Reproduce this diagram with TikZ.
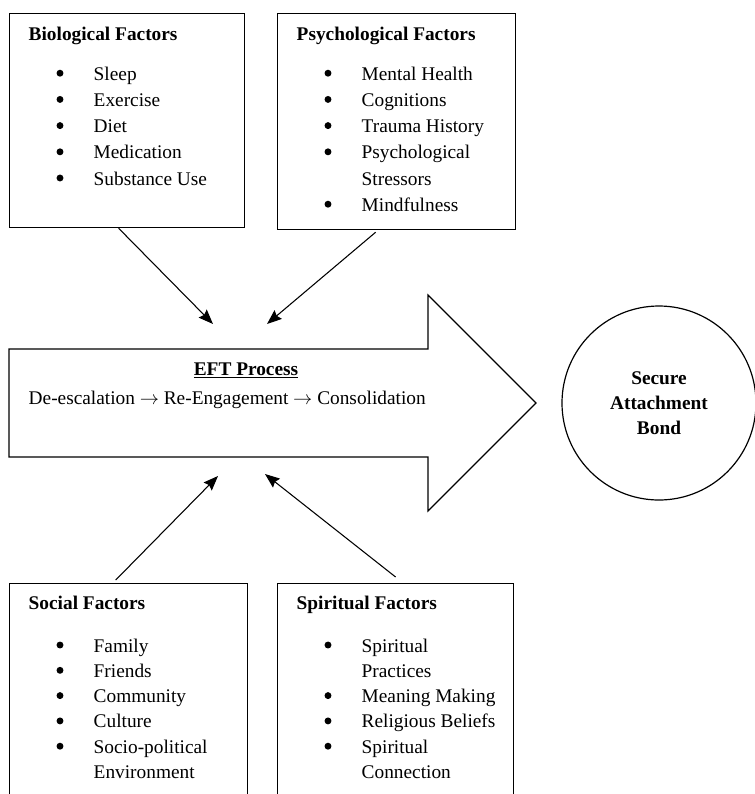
\documentclass[tikz,border=0pt]{standalone}
\usepackage{fontspec}
\setmainfont{Liberation Serif}
\usepackage{tikz}
\usetikzlibrary{arrows.meta}

\tikzset{
  factorbox/.style={draw,line width=0.9pt,anchor=north west,inner sep=0pt},
  headtext/.style={anchor=base west,font=\fontsize{14.5}{18}\selectfont\bfseries},
  itemtext/.style={anchor=base west},
  dot/.style={circle,fill,inner sep=0pt,minimum size=5.2pt},
  flow/.style={line width=0.8pt,-{Stealth[length=11pt,width=8.5pt,inset=1.5pt]}}
}

\begin{document}
\begin{tikzpicture}[x=0.75pt,y=-0.75pt,font=\fontsize{14.5}{18}\selectfont]
\useasboundingbox (0,0) rectangle (755,794);

% the four factor boxes
\node[factorbox,minimum width=176.25pt,minimum height=160.5pt] (bio) at (9,13) {};
\node[factorbox,minimum width=178.5pt,minimum height=162pt] (psy) at (277,13) {};
\node[factorbox,minimum width=178.5pt,minimum height=180pt] (soc) at (9,583) {};
\node[factorbox,minimum width=177pt,minimum height=180pt] (spi) at (277,583) {};

% biological
\node[headtext] (bio-h) at (24,40) {Biological Factors};
\foreach \t [count=\i] in {Sleep,Exercise,Diet,Medication,Substance Use} {
  \node[dot] (bio-d\i) at (60,{47+26.2*\i}) {};
  \node[itemtext] (bio-\i) at (89,{54+26.2*\i}) {\t};
}

% psychological
\node[headtext] (psy-h) at (292,40) {Psychological Factors};
\foreach \t [count=\i] in {Mental Health,Cognitions,Trauma History,Psychological,Stressors,Mindfulness}
  \node[itemtext] (psy-\i) at (357,{54+26.2*\i}) {\t};
\foreach \i in {1,2,3,4,6}
  \node[dot] (psy-d\i) at (328,{47+26.2*\i}) {};

% social
\node[headtext] (soc-h) at (24,609) {Social Factors};
\foreach \t [count=\i] in {Family,Friends,Community,Culture,Socio-political,Environment}
  \node[itemtext] (soc-\i) at (89,{626.7+25.3*\i}) {\t};
\foreach \i in {1,...,5}
  \node[dot] (soc-d\i) at (60,{619.7+25.3*\i}) {};

% spiritual
\node[headtext] (spi-h) at (292,609) {Spiritual Factors};
\foreach \t [count=\i] in {Spiritual,Practices,Meaning Making,Religious Beliefs,Spiritual,Connection}
  \node[itemtext] (spi-\i) at (357,{626.7+25.3*\i}) {\t};
\foreach \i in {1,3,4,5}
  \node[dot] (spi-d\i) at (328,{619.7+25.3*\i}) {};

% big process arrow
\draw[line width=0.9pt] (9,349) -- (428,349) -- (428,295) -- (536,403)
  -- (428,511) -- (428,457) -- (9,457) -- cycle;
\node[anchor=base] (eft) at (246,375) {\underline{\textbf{EFT Process}}};
\node[itemtext] (stages) at (24,404) {De-escalation $\rightarrow$ Re-Engagement $\rightarrow$ Consolidation};

% outcome
\node[draw,circle,line width=0.9pt,minimum size=145.5pt,inner sep=0pt,align=center,
  font=\fontsize{14.5}{18.75}\selectfont\bfseries] (bond) at (659,403)
  {Secure\\Attachment\\Bond};

% influences
\coordinate (tipA) at (213,324);
\coordinate (tipB) at (267,324);
\coordinate (tipC) at (218,476);
\coordinate (tipD) at (265,474);
\draw[flow] ([xshift=-6.4pt]bio.south) -- (tipA);
\draw[flow] ([xshift=-15.7pt,yshift=-1.5pt]psy.south) -- (tipB);
\draw[flow] ([xshift=-9.7pt,yshift=2.2pt]soc.north) -- (tipC);
\draw[flow] ([xshift=0pt,yshift=4.5pt]spi.north) -- (tipD);
\end{tikzpicture}
\end{document}
